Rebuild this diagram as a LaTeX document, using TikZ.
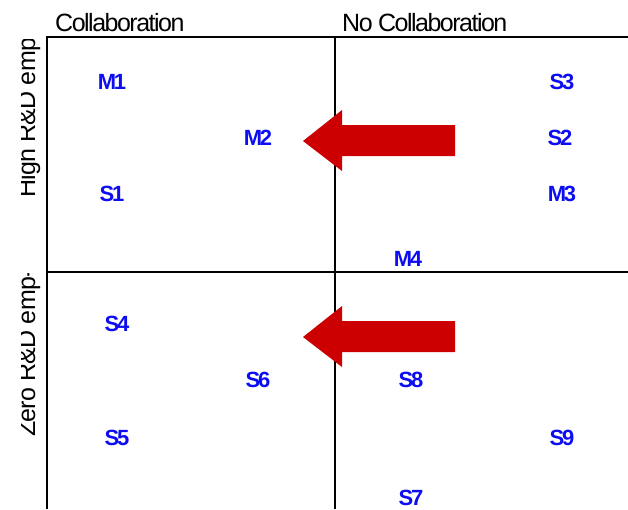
\documentclass[tikz,border=0pt]{standalone}
\usepackage{fontspec}
\setmainfont{Liberation Sans}
\newfontfamily\tagfont[LetterSpace=-10]{Liberation Sans}
\newfontfamily\axisfont[LetterSpace=-6]{Liberation Sans}
\newfontfamily\rowfont[LetterSpace=-3]{Liberation Sans}
\usepackage{xcolor}
\usetikzlibrary{positioning}
\definecolor{tagblue}{rgb}{0.05,0.05,0.95}
\definecolor{pushred}{rgb}{0.80,0.00,0.00}
\tikzset{
  firm/.style={text=tagblue, font=\tagfont\fontsize{22}{22}\selectfont\bfseries, inner sep=0pt},
  header/.style={font=\axisfont\fontsize{25}{25}\selectfont, inner sep=0pt, anchor=base west},
  sidelabel/.style={font=\rowfont\fontsize{25}{25}\selectfont, inner sep=0pt, rotate=90, anchor=base west},
  gridline/.style={line width=2.6pt, black},
  pusharrow/.style={fill=pushred, draw=none}
}

\begin{document}
\begin{tikzpicture}[x=1pt,y=-1pt]
    \useasboundingbox (0,0) rectangle (628,509);
    \def\xl{47}
    \def\xm{335}
    \def\yt{37}
    \def\ym{272}

    % quadrant grid
    \draw[gridline] (628,\yt) -- (\xl,\yt) -- (\xl,509);
    \draw[gridline] (\xm,\yt) -- (\xm,509);
    \draw[gridline] (\xl,\ym) -- (628,\ym);

    % column headers
    \node[header] (collab) at (55,31) {Collaboration};
    \node[header] (nocollab) at (342,31) {No Collaboration};

    % row labels, cut off by the frame
    \begin{scope}
      \clip (21,39.5) rectangle (\xl,\ym);
      \node[sidelabel] (high) at (35,198) {High R\&D emp};
    \end{scope}
    \begin{scope}
      \clip (21,\ym+1.5) rectangle (\xl,509);
      \node[sidelabel] (zero) at (35,437) {Zero R\&D emp-};
    \end{scope}

    % firms, top row
    \node[firm] (M1) at (112,82) {M1};
    \node[firm] (M2) at (258,138) {M2};
    \node[firm] (S1) at (112,194) {S1};
    \node[firm] (S3) at (562,82) {S3};
    \node[firm] (S2) at (560,138) {S2};
    \node[firm] (M3) at (562,194) {M3};
    \node[firm] (M4) at (408,259) {M4};

    % firms, bottom row
    \node[firm] (S4) at (117,324) {S4};
    \node[firm] (S6) at (258,380) {S6};
    \node[firm] (S5) at (117,438) {S5};
    \node[firm] (S8) at (411,380) {S8};
    \node[firm] (S9) at (562,438) {S9};
    \node[firm] (S7) at (411,498) {S7};

    % shift towards collaboration
    \foreach \yy in {141,337}{
      \fill[pusharrow] (303,\yy) -- (342,\yy-31) -- (342,\yy-16) -- (455,\yy-16)
        -- (455,\yy+15) -- (342,\yy+15) -- (342,\yy+30) -- cycle;
    }
  \end{tikzpicture}
\end{document}
